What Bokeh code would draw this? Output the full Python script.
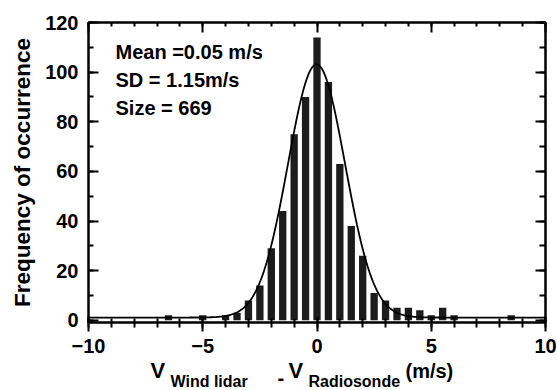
import numpy as np
from bokeh.plotting import figure
from bokeh.layouts import column
from bokeh.models import Range1d, LinearAxis, Label, FixedTicker, CustomJSTickFormatter
from bokeh.embed import file_html
from bokeh.resources import INLINE

# ---- data ----
bin_centers = [-6.5, -5.0, -4.0, -3.5, -3.0, -2.5, -2.0, -1.5, -1.0, -0.5, 0.0,
               0.5, 1.0, 1.5, 2.0, 2.5, 3.0, 3.5, 4.0, 4.5, 5.0, 5.5, 6.0, 8.5]
counts = [2, 2, 2, 3, 8, 14, 29, 44, 75, 90, 114,
          96, 63, 38, 26, 11, 8, 5, 5, 4, 2, 5, 2, 2]

# Gaussian fit parameters (offset, centre, sigma, peak height)
fit_y0 = 1.1
fit_xc = -0.02
fit_sigma = 1.25
fit_peak = 102.0

stats_lines = ["Mean =0.05 m/s", "SD = 1.15m/s", "Size = 669"]
x_major = [-10, -5, 0, 5, 10]
x_minor = list(range(-10, 11))
y_major = [0, 20, 40, 60, 80, 100, 120]
y_minor = list(range(0, 121, 10))

# x-axis title pieces: (text, font size, kind)
xlabel_parts = [("V", "22px", "main"), ("Wind lidar", "16px", "sub"), ("-", "20px", "dash"),
                ("V", "22px", "main"), ("Radiosonde", "16px", "sub"), ("(m/s)", "20px", "main")]

FONT = "Liberation Sans"
W = 557
H_MAIN = 359
H_LAB = 390 - H_MAIN
BL, BR = 88, 12

p = figure(width=W, height=H_MAIN, x_range=Range1d(-10, 10), y_range=Range1d(-0.9, 120),
           output_backend="svg", toolbar_location=None,
           min_border_left=BL, min_border_right=BR, min_border_top=22,
           min_border_bottom=H_MAIN - 322)
p.background_fill_color = "white"
p.border_fill_color = "white"
p.outline_line_color = "black"
p.outline_line_width = 2
p.xgrid.visible = False
p.ygrid.visible = False

# bars
p.vbar(x=bin_centers, top=counts, bottom=0, width=0.32, fill_color="#1c1c1c", line_color=None)

# fitted curve
xf = np.linspace(-10, 10, 801)
yf = fit_y0 + fit_peak * np.exp(-((xf - fit_xc) ** 2) / (2 * fit_sigma ** 2))
p.line(xf, yf, line_color="black", line_width=1.8)

def style_axis(ax, ticks, minor, tin, tout, mtin, mtout, labels=True):
    ax.ticker = FixedTicker(ticks=ticks, minor_ticks=minor)
    ax.axis_line_color = "black"
    ax.axis_line_width = 2
    ax.major_tick_line_color = "black"
    ax.major_tick_line_width = 2
    ax.minor_tick_line_color = "black"
    ax.minor_tick_line_width = 2
    ax.major_tick_in = tin
    ax.major_tick_out = tout
    ax.minor_tick_in = mtin
    ax.minor_tick_out = mtout
    ax.major_label_text_font = FONT
    ax.major_label_text_font_style = "bold"
    ax.major_label_text_color = "black"
    ax.major_label_text_font_size = "20px"
    if not labels:
        ax.formatter = CustomJSTickFormatter(code="return ''")
        ax.major_label_text_color = None
        ax.major_label_standoff = 0

xb = p.xaxis[0]
style_axis(xb, x_major, x_minor, 6, 9, 4, 5)
xb.major_label_standoff = 7
xb.major_label_text_line_height = 1.0

yl = p.yaxis[0]
style_axis(yl, y_major, y_minor, 10, 0, 5, 0)
yl.major_label_standoff = 10
yl.axis_label = "Frequency of occurrence"
yl.axis_label_text_font = FONT
yl.axis_label_text_font_style = "bold"
yl.axis_label_text_font_size = "22.5px"
yl.axis_label_text_color = "black"
yl.axis_label_standoff = 7

xt = LinearAxis()
style_axis(xt, x_major, x_minor, 10, 0, 4, 0, labels=False)
p.add_layout(xt, "above")

yr = LinearAxis()
style_axis(yr, y_major, y_minor, 10, 0, 6, 0, labels=False)
p.add_layout(yr, "right")

# statistics text (screen units relative to the plot frame; anchor = middle of the caps)
for i, s in enumerate(stats_lines):
    p.add_layout(Label(x=27, y=270.9 - 28.3 * i, x_units="screen", y_units="screen", text=s,
                       text_font=FONT, text_font_style="bold", text_font_size="20px",
                       text_color="black", text_baseline="middle"))

# strip below the main plot carrying the x-axis title with subscripts
q = figure(width=W, height=H_LAB, x_range=Range1d(0, 1), y_range=Range1d(0, 1),
           output_backend="svg", toolbar_location=None, x_axis_location=None, y_axis_location=None,
           min_border_left=BL, min_border_right=BR, min_border_top=0, min_border_bottom=0)
q.xgrid.visible = False
q.ygrid.visible = False
q.outline_line_color = None
q.background_fill_color = "white"
q.border_fill_color = "white"

part_x = [150, 170, 277, 288, 308, 405]
mid_for = {"main": 370.0, "sub": 381.0, "dash": 377.6}
for (t, size, kind), xx in zip(xlabel_parts, part_x):
    q.add_layout(Label(x=xx - BL, y=390 - mid_for[kind], x_units="screen", y_units="screen",
                       text=t, text_font=FONT, text_font_style="bold", text_font_size=size,
                       text_line_height=1.0, text_color="black", text_baseline="middle"))

layout = column(p, q, spacing=0)
open("out.html", "w").write(file_html(layout, INLINE))
